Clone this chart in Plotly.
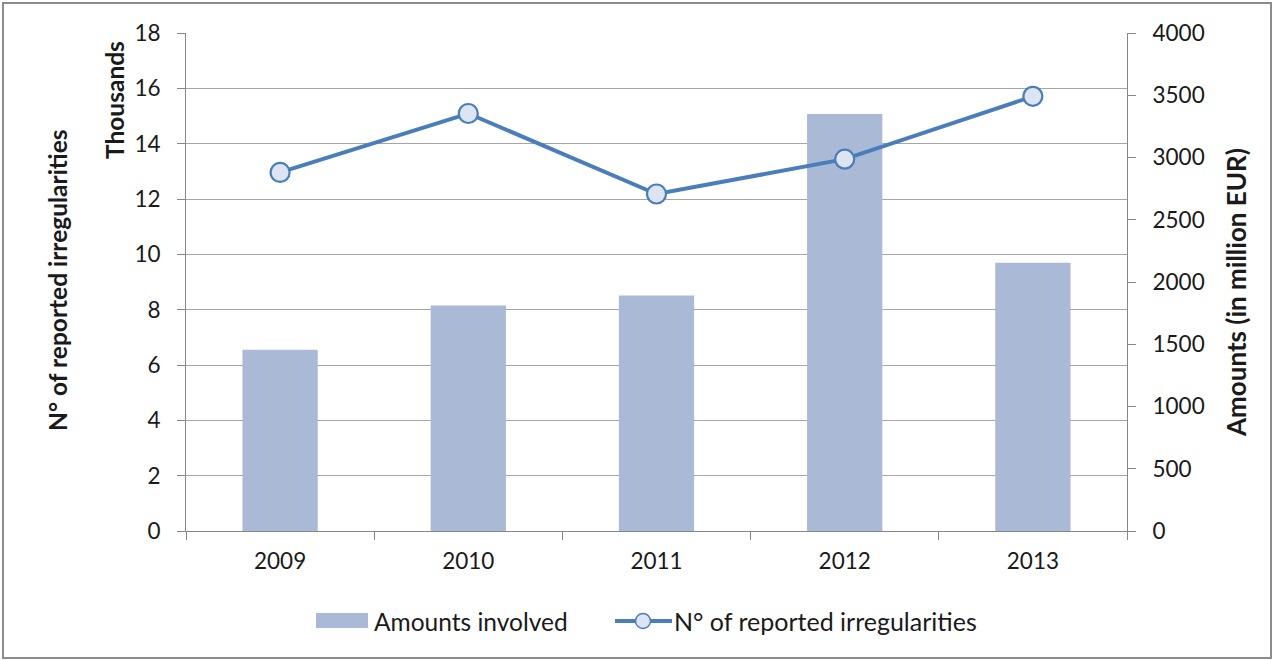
import plotly.graph_objects as go

years = ["2009", "2010", "2011", "2012", "2013"]
amounts = [1455, 1811, 1891, 3349, 2154]              # million EUR (right axis)
irregularities = [12.96, 15.09, 12.18, 13.44, 15.71]  # thousands (left axis)

FONT = "Lato, 'Open Sans', sans-serif"
TXT = "#1a1a1a"
BAR = "#AAB9D6"
LINE = "#4A7EBB"
MFILL = "#DCE5F1"
W, H = 1279, 660
L, R, T, B = 186, 152, 33, 129
pw, ph = W - L - R, H - T - B

def px(x):
    return (x - L) / pw

def py(y):
    return (H - B - y) / ph

fig = go.Figure()
fig.add_trace(go.Bar(
    x=years, y=amounts, name="Amounts involved", yaxis="y",
    marker=dict(color=BAR, line=dict(width=0)),
))
fig.add_trace(go.Scatter(
    x=years, y=irregularities, name="N° of reported irregularities", yaxis="y2",
    mode="lines+markers",
    line=dict(color=LINE, width=4),
    marker=dict(size=19, color=MFILL, line=dict(color=LINE, width=2.2)),
))

axcol = "#868686"
fig.update_layout(
    width=W, height=H,
    margin=dict(l=L, r=R, t=T, b=B, pad=0),
    paper_bgcolor="white", plot_bgcolor="white",
    font=dict(family=FONT, size=22, color=TXT),
    bargap=0.6,
    showlegend=False,
    xaxis=dict(type="category", tickson="boundaries", ticks="outside", ticklen=8,
               tickcolor=axcol, showline=True, linecolor=axcol, linewidth=1,
               showgrid=False, tickfont=dict(size=22.5), zeroline=False,
               ticklabelstandoff=10),
    yaxis=dict(side="right", range=[0, 4000], dtick=500, tick0=0, showgrid=False,
               ticks="outside", ticklen=8, tickcolor=axcol, showline=True,
               linecolor=axcol, zeroline=False, tickfont=dict(size=22.5),
               ticklabelstandoff=12),
    yaxis2=dict(side="left", overlaying="y", range=[0, 18], dtick=2, tick0=0,
                showgrid=True, gridcolor="#A6A6A6", gridwidth=1,
                ticks="outside", ticklen=8, tickcolor=axcol, showline=True,
                linecolor=axcol, zeroline=False, tickfont=dict(size=22.5),
                ticklabelstandoff=12),
    annotations=[
        dict(text="<b>N° of reported irregularities</b>", textangle=-90,
             x=px(57), y=py(281), xref="paper", yref="paper", showarrow=False,
             font=dict(size=24.5, color=TXT), xanchor="center", yanchor="middle"),
        dict(text="<b>Thousands</b>", textangle=-90,
             x=px(114), y=py(100), xref="paper", yref="paper", showarrow=False,
             font=dict(size=24.5, color=TXT), xanchor="center", yanchor="middle"),
        dict(text="<b>Amounts (in million EUR)</b>", textangle=-90,
             x=px(1236), y=py(293), xref="paper", yref="paper", showarrow=False,
             font=dict(size=26, color=TXT), xanchor="center", yanchor="middle"),
        dict(text="Amounts involved", x=px(372), y=py(621), xref="paper", yref="paper",
             showarrow=False, font=dict(size=24.5, color=TXT),
             xanchor="left", yanchor="middle"),
        dict(text="N° of reported irregularities", x=px(672), y=py(621),
             xref="paper", yref="paper",
             showarrow=False, font=dict(size=25, color=TXT),
             xanchor="left", yanchor="middle"),
    ],
    shapes=[
        dict(type="rect", xref="paper", yref="paper",
             x0=px(3), x1=px(1271), y0=py(3), y1=py(658),
             line=dict(color="#8C8C8C", width=2), fillcolor="rgba(0,0,0,0)", layer="below"),
        # legend swatches
        dict(type="rect", xref="paper", yref="paper",
             x0=px(316), x1=px(368), y0=py(628), y1=py(613),
             line=dict(width=0), fillcolor=BAR),
        dict(type="line", xref="paper", yref="paper",
             x0=px(615), x1=px(672), y0=py(621), y1=py(621),
             line=dict(color=LINE, width=4)),
        dict(type="circle", xref="paper", yref="paper",
             x0=px(635.5), x1=px(650.5), y0=py(628.5), y1=py(613.5),
             line=dict(color=LINE, width=1.5), fillcolor=MFILL),
    ],
)

fig.write_html("out.html", config={"displayModeBar": False},
               post_script="document.body.style.margin='0';")
